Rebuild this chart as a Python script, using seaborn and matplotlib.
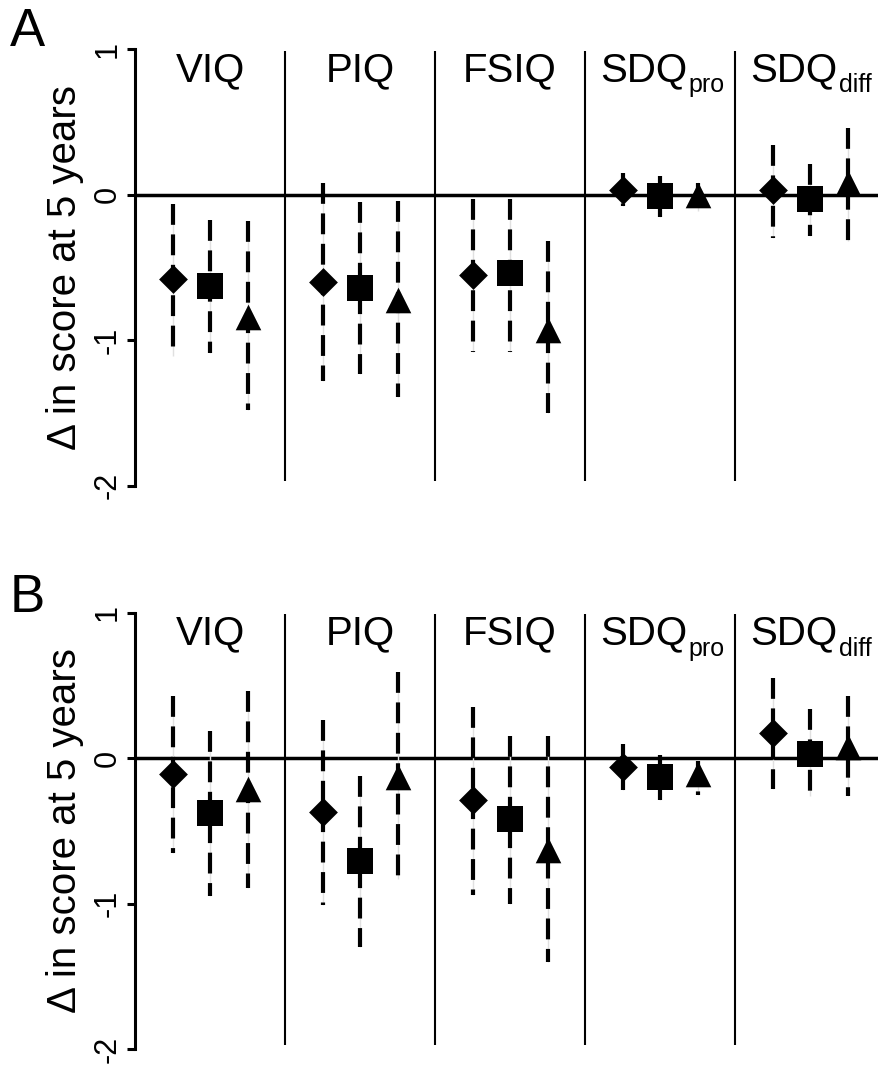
import numpy as np
import pandas as pd
import seaborn as sns
import matplotlib.pyplot as plt

sns.set_style("white")
plt.rcParams['font.family'] = ['Liberation Sans', 'DejaVu Sans']
plt.rcParams['text.color'] = 'black'
plt.rcParams['axes.labelcolor'] = 'black'
plt.rcParams['ytick.color'] = 'black'

# outcome groups along x
groups = ["VIQ", "PIQ", "FSIQ", "SDQ_pro", "SDQ_diff"]
main_labels = ["VIQ", "PIQ", "FSIQ", "SDQ", "SDQ"]
sub_labels = ["", "", "", "pro", "diff"]
models = ["diamond", "square", "triangle"]

# panel A: estimates and CI, one list per model
a_est = {"diamond": [-0.58, -0.60, -0.55, 0.03, 0.03],
         "square": [-0.63, -0.64, -0.54, -0.01, -0.03],
         "triangle": [-0.84, -0.72, -0.93, 0.00, 0.08]}
a_lo = {"diamond": [-1.11, -1.28, -1.08, -0.08, -0.30],
        "square": [-1.09, -1.23, -1.08, -0.15, -0.28],
        "triangle": [-1.48, -1.39, -1.50, -0.11, -0.32]}
a_hi = {"diamond": [-0.06, 0.08, -0.03, 0.15, 0.34],
        "square": [-0.17, -0.05, -0.03, 0.13, 0.21],
        "triangle": [-0.18, -0.04, -0.32, 0.08, 0.46]}

# panel B
b_est = {"diamond": [-0.11, -0.37, -0.29, -0.06, 0.17],
         "square": [-0.38, -0.71, -0.42, -0.13, 0.03],
         "triangle": [-0.21, -0.13, -0.63, -0.11, 0.08]}
b_lo = {"diamond": [-0.65, -1.01, -0.94, -0.22, -0.21],
        "square": [-0.95, -1.30, -1.00, -0.29, -0.26],
        "triangle": [-0.89, -0.83, -1.40, -0.25, -0.26]}
b_hi = {"diamond": [0.43, 0.26, 0.35, 0.10, 0.55],
        "square": [0.19, -0.12, 0.15, 0.02, 0.34],
        "triangle": [0.46, 0.59, 0.15, -0.02, 0.43]}

marker_map = {"diamond": "D", "square": "s", "triangle": "^"}
size_map = {"diamond": 215, "square": 340, "triangle": 340}
offset = {"diamond": 0.25, "square": 0.5, "triangle": 0.75}


def make_df(est, lo, hi):
    rows = []
    for m in models:
        for i, g in enumerate(groups):
            rows.append({"group": g, "model": m, "x": i + offset[m],
                         "est": est[m][i], "lo": lo[m][i], "hi": hi[m][i]})
    return pd.DataFrame(rows)


def draw_panel(ax, df):
    ax.axhline(0, color="black", lw=2.5, zorder=1)
    ax.vlines([1, 2, 3, 4], -1.97, 0.99, color="black", lw=1.5, zorder=1)
    # error bars: faint solid line under a thick dashed one
    ax.vlines(df["x"], df["hi"], df["lo"], color="#e0e0e0", lw=1, zorder=2)
    ax.vlines(df["x"], df["hi"], df["lo"], color="black", lw=3,
              linestyles=(0, (5, 2.3)), zorder=2)
    for m in models:
        sub = df[df["model"] == m]
        sns.scatterplot(data=sub, x="x", y="est", marker=marker_map[m],
                        s=size_map[m], color="black", linewidth=0,
                        ax=ax, zorder=3, legend=False)
    for i, (lab, sub_lab) in enumerate(zip(main_labels, sub_labels)):
        if sub_lab:
            ax.text(i + 0.685, 0.78, lab, ha="right", va="baseline", fontsize=29)
            ax.annotate(sub_lab, (i + 0.69, 0.78), xytext=(0, -8),
                        textcoords="offset points", ha="left", va="baseline",
                        fontsize=18)
        else:
            ax.text(i + 0.5, 0.78, lab, ha="center", va="baseline", fontsize=29)
    ax.set_xlim(0, 4.96)
    ax.set_ylim(-2.02, 1.02)
    ax.set_yticks([-2, -1, 0, 1])
    ax.set_yticklabels(["-2", "-1", "0", "1"], rotation=90, va="center", fontsize=22)
    ax.set_xticks([])
    ax.set_xlabel("")
    ax.set_ylabel("\u0394 in score at 5 years", fontsize=29, labelpad=6)
    for s in ["top", "right", "bottom"]:
        ax.spines[s].set_visible(False)
    ax.spines["left"].set_linewidth(2.2)
    ax.spines["left"].set_color("black")
    ax.spines["left"].set_bounds(-2, 1)
    ax.tick_params(axis="y", left=True, length=6, width=2.2, color="black", pad=3)


fig = plt.figure(figsize=(8.79, 10.8), dpi=100)
ax_a = fig.add_axes([0.1536, 0.5475, 0.8464, 0.4095])
ax_b = fig.add_axes([0.1536, 0.0259, 0.8464, 0.4095])

draw_panel(ax_a, make_df(a_est, a_lo, a_hi))
draw_panel(ax_b, make_df(b_est, b_lo, b_hi))

fig.text(0.011, 0.9575, "A", fontsize=38, va="baseline")
fig.text(0.011, 0.4335, "B", fontsize=38, va="baseline")

fig.savefig("out.png", dpi=100)
